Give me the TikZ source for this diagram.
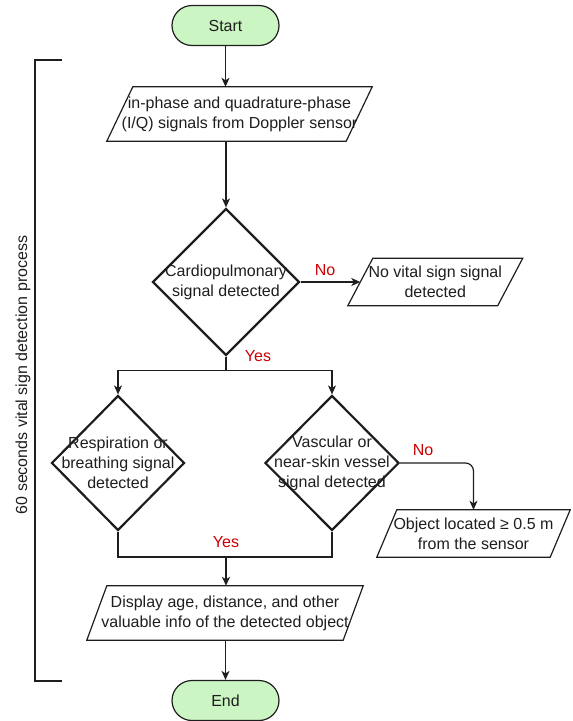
\documentclass[tikz,border=0pt]{standalone}
\usepackage{fontspec}
\setmainfont{Liberation Sans}
\usetikzlibrary{arrows.meta,shapes.geometric,calc}
\definecolor{termfill}{RGB}{204,245,196}
\definecolor{lbl}{RGB}{204,0,0}
\definecolor{ink}{RGB}{30,30,30}
\tikzset{
  base/.style={font=\fontsize{16}{20}\selectfont, text=ink, align=center, inner sep=0pt},
  term/.style={base, draw=ink, line width=1.2pt, fill=termfill, rounded corners=20pt,
    minimum width=107pt, minimum height=40pt},
  iobox/.style={base},
  dia/.style={diamond, draw=ink, line width=2.2pt, inner sep=0pt},
  lab/.style={font=\fontsize{16}{20}\selectfont, text=lbl, inner sep=0pt},
  conn/.style={draw=ink, line width=1.2pt},
  arr/.style={conn, -{Stealth[length=9pt,width=8pt,inset=2.5pt]}},
}
\newcommand\drawpara[2]{\draw[conn] ([xshift=#2/2]#1.north west) -- ([xshift=#2/2]#1.north east) -- ([xshift=-#2/2]#1.south east) -- ([xshift=-#2/2]#1.south west) -- cycle;}
\begin{document}
\begin{tikzpicture}[x=1pt,y=-1pt]
\useasboundingbox (0,0) rectangle (573,721);

% terminals
\node[term] (start) at (225.5,25.5) {Start};
\node[term] (fin) at (225.5,700.5) {End};

% parallelograms
\node[iobox, minimum width=239pt, minimum height=54pt] (p1) at (239.5,114) {in-phase and quadrature-phase\\(I/Q) signals from Doppler sensor};
\drawpara{p1}{26}
\node[iobox, minimum width=149.5pt, minimum height=47pt] (p2) at (435.25,282) {No vital sign signal\\detected};
\drawpara{p2}{25}
\node[iobox, minimum width=173pt, minimum height=47pt] (p4) at (473.5,533.5) {Object located ≥ 0.5 m\\from the sensor};
\drawpara{p4}{20}
\node[iobox, minimum width=256pt, minimum height=54pt] (p5) at (225,613) {Display age, distance, and other\\valuable info of the detected object};
\drawpara{p5}{20}

% diamonds
\node[dia, minimum width=147pt, minimum height=147pt] (d1) at (226,282) {};
\node[base] (t1) at (d1) {Cardiopulmonary\\signal detected};
\node[dia, minimum width=133pt, minimum height=135pt] (d2) at (118,463) {};
\node[base] (t2) at (d2) {Respiration or\\breathing signal\\detected};
\node[dia, minimum width=134pt, minimum height=135pt] (d3) at (332,463) {};
\node[base] (t3) at (d3) {Vascular or\\near-skin vessel\\signal detected};

% connectors
\draw[arr] (start.south) -- (start.south |- p1.north);
\draw[arr] (p1.south -| d1.north) -- (d1.north);
\draw[arr] (d1.east) -- (p2.west);
\draw[arr] (d1.south) -- ++(0,14) -| (d2.north);
\draw[arr] (d1.south) -- ++(0,14) -| (d3.north);
\draw[arr, rounded corners=8pt] (d3.east) -| (p4.north);
\coordinate (j) at (226,557);
\draw[conn] (d2.south) |- (j);
\draw[conn] (d3.south) |- (j);
\draw[arr] (j) -- (j |- p5.north);
\draw[arr] (p5.south -| fin.north) -- (fin.north);

% labels
\node[lab] (no1) at (325,270) {No};
\node[lab] (yes1) at (258,356) {Yes};
\node[lab] (no2) at (423,450) {No};
\node[lab] (yes2) at (226,542) {Yes};

% bracket
\draw[conn] (62,60) -- (35,60) -- (35,681) -- (62,681);
\node[base, rotate=90] (brk) at (23,375) {60 seconds vital sign detection process};
\end{tikzpicture}
\end{document}
